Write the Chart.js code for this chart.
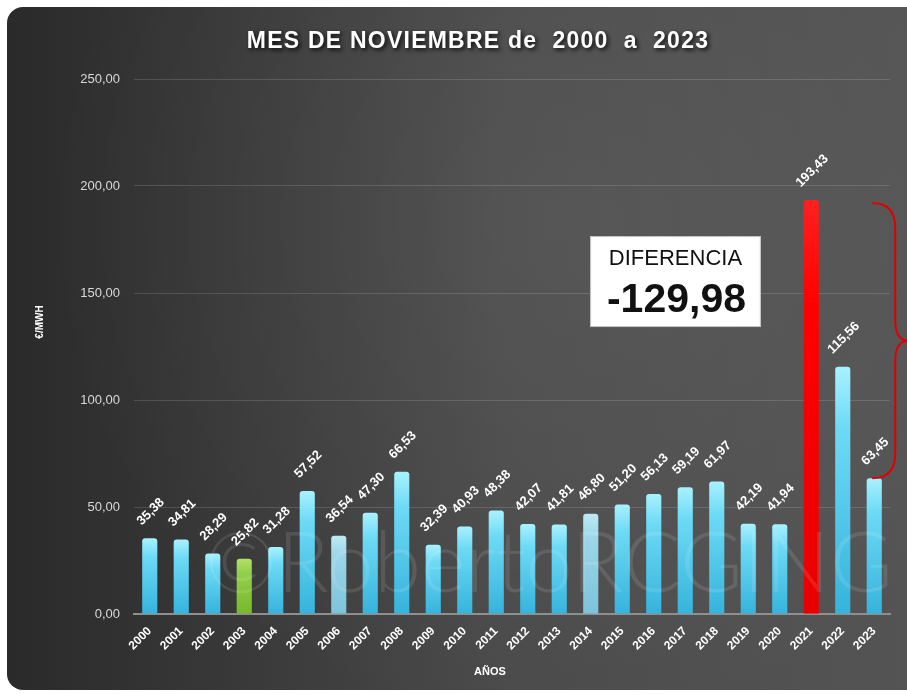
<!DOCTYPE html>
<html><head><meta charset="utf-8">
<script src="https://cdn.jsdelivr.net/npm/chart.js@4/dist/chart.umd.min.js"></script>
<style>html,body{margin:0;padding:0;background:#fff;}#wrap{width:907px;height:694px;position:relative;}canvas{display:block}</style>
</head><body><div id="wrap"><canvas id="c"></canvas></div>
<script>
// ---- DATA ----
const years = ['2000','2001','2002','2003','2004','2005','2006','2007','2008','2009','2010','2011','2012','2013','2014','2015','2016','2017','2018','2019','2020','2021','2022','2023'];
const prices = [35.38,34.81,28.29,25.82,31.28,57.52,36.54,47.30,66.53,32.39,40.93,48.38,42.07,41.81,46.80,51.20,56.13,59.19,61.97,42.19,41.94,193.43,115.56,63.45];
const yTicks = [0,50,100,150,200,250];
const chartTitle = 'MES DE NOVIEMBRE de  2000  a  2023';
const yTitle = '€/MWH';
const xTitle = 'AÑOS';
const noteLabel = 'DIFERENCIA';
const watermark = '©RobertoRCGING';
const fromYear = '2021', toYear = '2023';
// --------------

const fmt = v => v.toFixed(2).replace('.', ',');
const idxFrom = years.indexOf(fromYear), idxTo = years.indexOf(toYear);
const difference = prices[idxTo] - prices[idxFrom];

const barStyle = {'2003':'green','2006':'pale','2014':'pale','2021':'red'};
const palettes = {
  normal: ['#a8f2ff','#6ddaf5','#36b3dc'],
  pale:   ['#bdeaf4','#9ad6e8','#7cc3da'],
  green:  ['#b3e067','#92d04a','#78b82c'],
  red:    ['#ff2020','#ff0000','#e80000']
};
const FONT = '"Liberation Sans", Arial, sans-serif';

function barColor(ctx){
  const chart = ctx.chart;
  const p = palettes[barStyle[years[ctx.dataIndex]]||'normal'];
  const ys = chart.scales && chart.scales.y;
  if(!ys || ctx.dataIndex===undefined || !chart.chartArea) return p[1];
  const top = ys.getPixelForValue(prices[ctx.dataIndex]);
  const bot = ys.getPixelForValue(0);
  const g = chart.ctx.createLinearGradient(0, top, 0, bot);
  g.addColorStop(0, p[0]); g.addColorStop(0.25, p[1]); g.addColorStop(1, p[2]);
  return g;
}

const bgPlugin = {
  id:'bg',
  beforeDraw(chart){
    const {ctx,width,height} = chart;
    ctx.save();
    ctx.fillStyle='#ffffff'; ctx.fillRect(0,0,width,height);
    const g = ctx.createLinearGradient(7,0,width,0);
    g.addColorStop(0,'#2a2a2a'); g.addColorStop(0.55,'#4a4a4a'); g.addColorStop(1,'#545454');
    ctx.beginPath(); ctx.roundRect(7,7,width+20,height-11,16);
    ctx.fillStyle=g; ctx.fill();
    ctx.clip();
    const r = ctx.createRadialGradient(560,220,20,560,220,520);
    r.addColorStop(0,'rgba(255,255,255,0.06)'); r.addColorStop(1,'rgba(255,255,255,0)');
    ctx.fillStyle=r; ctx.fillRect(0,0,width,height);
    ctx.restore();
  }
};

const textPlugin = {
  id:'texts',
  afterDatasetsDraw(chart){
    const {ctx} = chart; const xs = chart.scales.x, ys = chart.scales.y;
    const meta = chart.getDatasetMeta(0);
    // watermark
    ctx.save();
    ctx.font = '300 80px Lato, '+FONT;
    let w = ctx.measureText(watermark).width;
    const size = 80*688/w;
    ctx.font = '300 '+size.toFixed(1)+'px Lato, '+FONT;
    ctx.fillStyle='rgba(255,255,255,0.11)';
    ctx.textAlign='center'; ctx.textBaseline='middle';
    ctx.fillText(watermark, xs.getPixelForValue(12.67), ys.getPixelForValue(23));
    ctx.restore();
    // value labels
    ctx.save();
    ctx.font = 'bold 13px '+FONT; ctx.fillStyle='#ffffff';
    ctx.textAlign='center'; ctx.textBaseline='middle';
    meta.data.forEach((bar,i)=>{
      const t = fmt(prices[i]); const tw = ctx.measureText(t).width;
      const off = 12 + tw*0.354 + 3;
      ctx.save(); ctx.translate(bar.x+1, bar.y-off); ctx.rotate(-Math.PI/4);
      ctx.fillText(t,0,0); ctx.restore();
    });
    ctx.restore();
    // difference box
    const bl = xs.getPixelForValue(13.98), br = xs.getPixelForValue(19.4);
    const bt = ys.getPixelForValue(176.6), bb = ys.getPixelForValue(134.1);
    ctx.save();
    ctx.fillStyle='#ffffff'; ctx.fillRect(bl,bt,br-bl,bb-bt);
    ctx.strokeStyle='#bfbfbf'; ctx.lineWidth=1; ctx.strokeRect(bl+0.5,bt+0.5,br-bl-1,bb-bt-1);
    const cx = (bl+br)/2;
    ctx.fillStyle='#111'; ctx.textAlign='center'; ctx.textBaseline='alphabetic';
    ctx.font='22px '+FONT; ctx.fillText(noteLabel, cx, bt+29);
    ctx.font='bold 41px '+FONT; ctx.fillText(fmt(difference), cx+1, bt+76);
    ctx.restore();
    // brace
    const yTop = ys.getPixelForValue(prices[idxFrom])+3, yBot = ys.getPixelForValue(prices[idxTo]);
    const xl = xs.getPixelForValue(idxTo)-2, xv = xl+23, xc = xl+37, ym = (yTop+yBot)/2;
    ctx.save();
    ctx.strokeStyle='#e00000'; ctx.lineWidth=2;
    ctx.beginPath();
    ctx.moveTo(xl,yTop); ctx.quadraticCurveTo(xv,yTop,xv,yTop+25);
    ctx.lineTo(xv,ym-20); ctx.quadraticCurveTo(xv,ym,xc,ym);
    ctx.quadraticCurveTo(xv,ym,xv,ym+20);
    ctx.lineTo(xv,yBot-25); ctx.quadraticCurveTo(xv,yBot,xl,yBot);
    ctx.stroke();
    ctx.restore();
  },
  afterDraw(chart){
    const {ctx} = chart;
    ctx.save();
    // main title
    ctx.font='bold 23px '+FONT;
    const w0 = ctx.measureText(chartTitle).width;
    ctx.letterSpacing = ((461-w0)/(chartTitle.length-1)).toFixed(2)+'px';
    ctx.fillStyle='#ffffff'; ctx.textAlign='center'; ctx.textBaseline='middle';
    ctx.shadowColor='rgba(0,0,0,0.85)'; ctx.shadowBlur=4; ctx.shadowOffsetX=2; ctx.shadowOffsetY=2;
    ctx.fillText(chartTitle, 478, 42);
    ctx.restore();
    ctx.save();
    ctx.fillStyle='#ffffff'; ctx.textAlign='center'; ctx.textBaseline='middle';
    ctx.font='bold 11px '+FONT;
    ctx.fillText(xTitle, 490, 672);
    ctx.translate(40, 322); ctx.rotate(-Math.PI/2);
    ctx.font='bold 10px '+FONT;
    ctx.fillText(yTitle, 0, 0);
    ctx.restore();
  }
};

new Chart(document.getElementById('c'), {
  type:'bar',
  data:{ labels: years, datasets:[{ data: prices, backgroundColor: barColor,
    barPercentage:0.48, categoryPercentage:1,
    borderRadius:{topLeft:3,topRight:3,bottomLeft:0,bottomRight:0}, borderSkipped:'bottom' }]},
  options:{
    responsive:true, maintainAspectRatio:false, animation:false,
    layout:{ padding:{ top:79, right:17, left:0, bottom:0 } },
    plugins:{ legend:{display:false}, title:{display:false}, tooltip:{enabled:false} },
    scales:{
      x:{
        grid:{ display:false, drawTicks:false },
        border:{ display:true, color:'#8f8f8f', width:2 },
        ticks:{ color:'#ffffff', font:{family:FONT, size:12, weight:'bold'}, minRotation:45, maxRotation:45, padding:10, autoSkip:false },
        afterFit(s){ s.height = 80; }
      },
      y:{
        min:0, max:250,
        afterBuildTicks(s){ s.ticks = yTicks.map(v=>({value:v})); },
        grid:{ color:'rgba(255,255,255,0.14)', lineWidth:1, drawTicks:false },
        border:{ display:false },
        ticks:{ color:'#d9d9d9', font:{family:FONT, size:13}, padding:14, callback:v=>fmt(v) },
        afterFit(s){ s.width = 134; }
      }
    }
  },
  plugins:[bgPlugin, textPlugin]
});
</script></body></html>
